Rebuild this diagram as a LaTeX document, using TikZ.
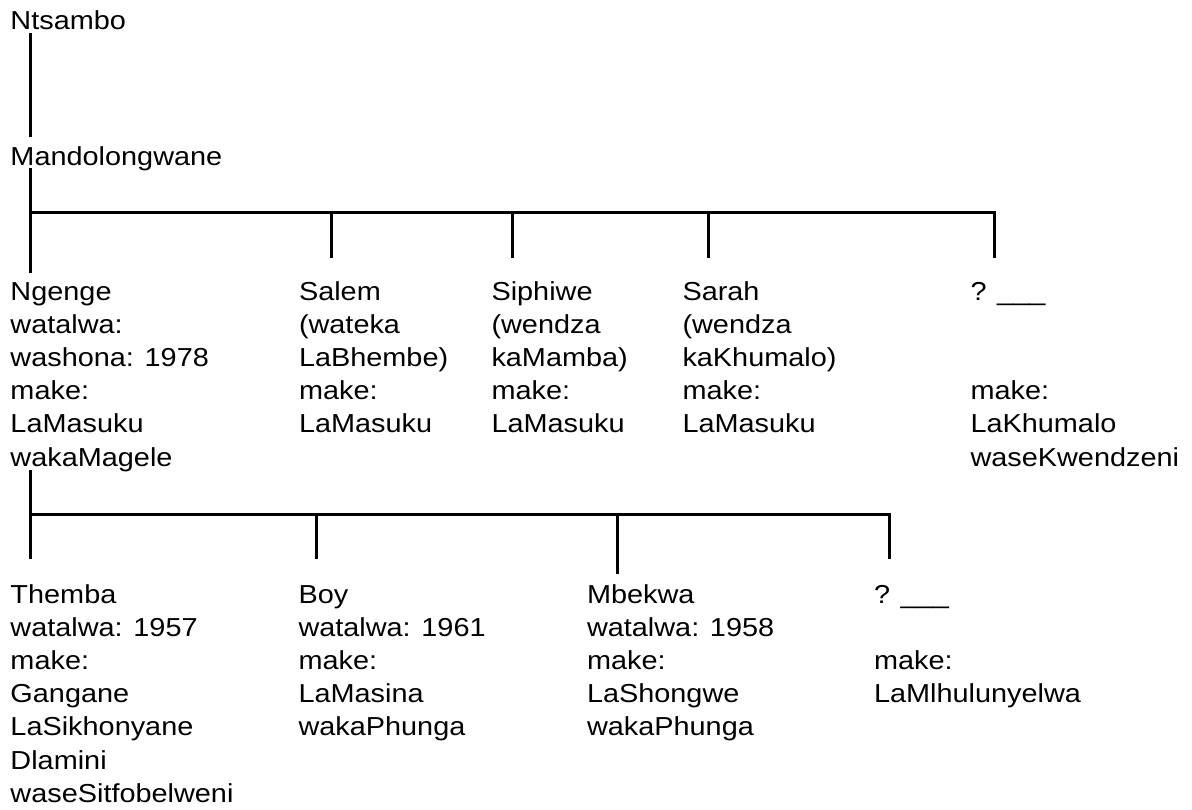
\documentclass[tikz,border=0pt]{standalone}
\usepackage{fontspec}
\setmainfont{Liberation Sans}[FakeStretch=1.11]
\newcommand\persfont{\fontsize{13pt}{16.6pt}\selectfont}
\newcommand\blk[1]{\begin{tabular}[t]{@{}l@{}}#1\end{tabular}}
\begin{document}
\begin{tikzpicture}[x=0.5pt,y=-0.5pt,
  person/.style={anchor=base west,inner sep=0pt,outer sep=0pt,font=\persfont},
  tree/.style={line width=1.5pt}]
\useasboundingbox (0,0) rectangle (1192,809);
\fill[white] (0,0) rectangle (1192,809);

% people
\node[person] (nts) at (10.5,29.3) {Ntsambo};
\node[person] (man) at (10.5,165) {Mandolongwane};
\node[person] (ngg) at (10.5,300) {\blk{Ngenge\\watalwa:\\washona: 1978\\make:\\LaMasuku\\wakaMagele}};
\node[person] (sal) at (299,300) {\blk{Salem\\(wateka\\LaBhembe)\\make:\\LaMasuku}};
\node[person] (sip) at (491.5,300) {\blk{Siphiwe\\(wendza\\kaMamba)\\make:\\LaMasuku}};
\node[person] (sar) at (682.5,300) {\blk{Sarah\\(wendza\\kaKhumalo)\\make:\\LaMasuku}};
\node[person] (unk1) at (970.5,300) {\blk{? \_\_\_\\ \\ \\make:\\LaKhumalo\\waseKwendzeni}};
\node[person] (thm) at (10.5,603) {\blk{Themba\\watalwa: 1957\\make:\\Gangane\\LaSikhonyane\\Dlamini\\waseSitfobelweni}};
\node[person] (boy) at (298.5,603) {\blk{Boy\\watalwa: 1961\\make:\\LaMasina\\wakaPhunga}};
\node[person] (mbk) at (587,603) {\blk{Mbekwa\\watalwa: 1958\\make:\\LaShongwe\\wakaPhunga}};
\node[person] (unk2) at (874,603) {\blk{? \_\_\_\\ \\make:\\LaMlhulunyelwa}};

% connector end points
\coordinate (nts-b) at (30,33);
\coordinate (man-t) at (30,137);
\coordinate (man-b) at (30,168);
\coordinate (ngg-t) at (30,273);
\coordinate (bar1) at (30,212.5);
\coordinate (sal-t) at (331,258);
\coordinate (sip-t) at (512,258);
\coordinate (sar-t) at (708,258);
\coordinate (unk1-t) at (994,258);
\coordinate (ngg-b) at (30,470);
\coordinate (thm-t) at (30,559);
\coordinate (bar2) at (30,514);
\coordinate (boy-t) at (316,559);
\coordinate (mbk-t) at (617,574);
\coordinate (unk2-t) at (889,559);

% connectors
\draw[tree] (nts-b) -- (man-t);
\draw[tree] (man-b) -- (ngg-t);
\draw[tree] (bar1) -- (unk1-t |- bar1) -- (unk1-t);
\draw[tree] (sal-t |- bar1) -- (sal-t);
\draw[tree] (sip-t |- bar1) -- (sip-t);
\draw[tree] (sar-t |- bar1) -- (sar-t);
\draw[tree] (ngg-b) -- (thm-t);
\draw[tree] (bar2) -- (unk2-t |- bar2) -- (unk2-t);
\draw[tree] (boy-t |- bar2) -- (boy-t);
\draw[tree] (mbk-t |- bar2) -- (mbk-t);
\end{tikzpicture}
\end{document}
